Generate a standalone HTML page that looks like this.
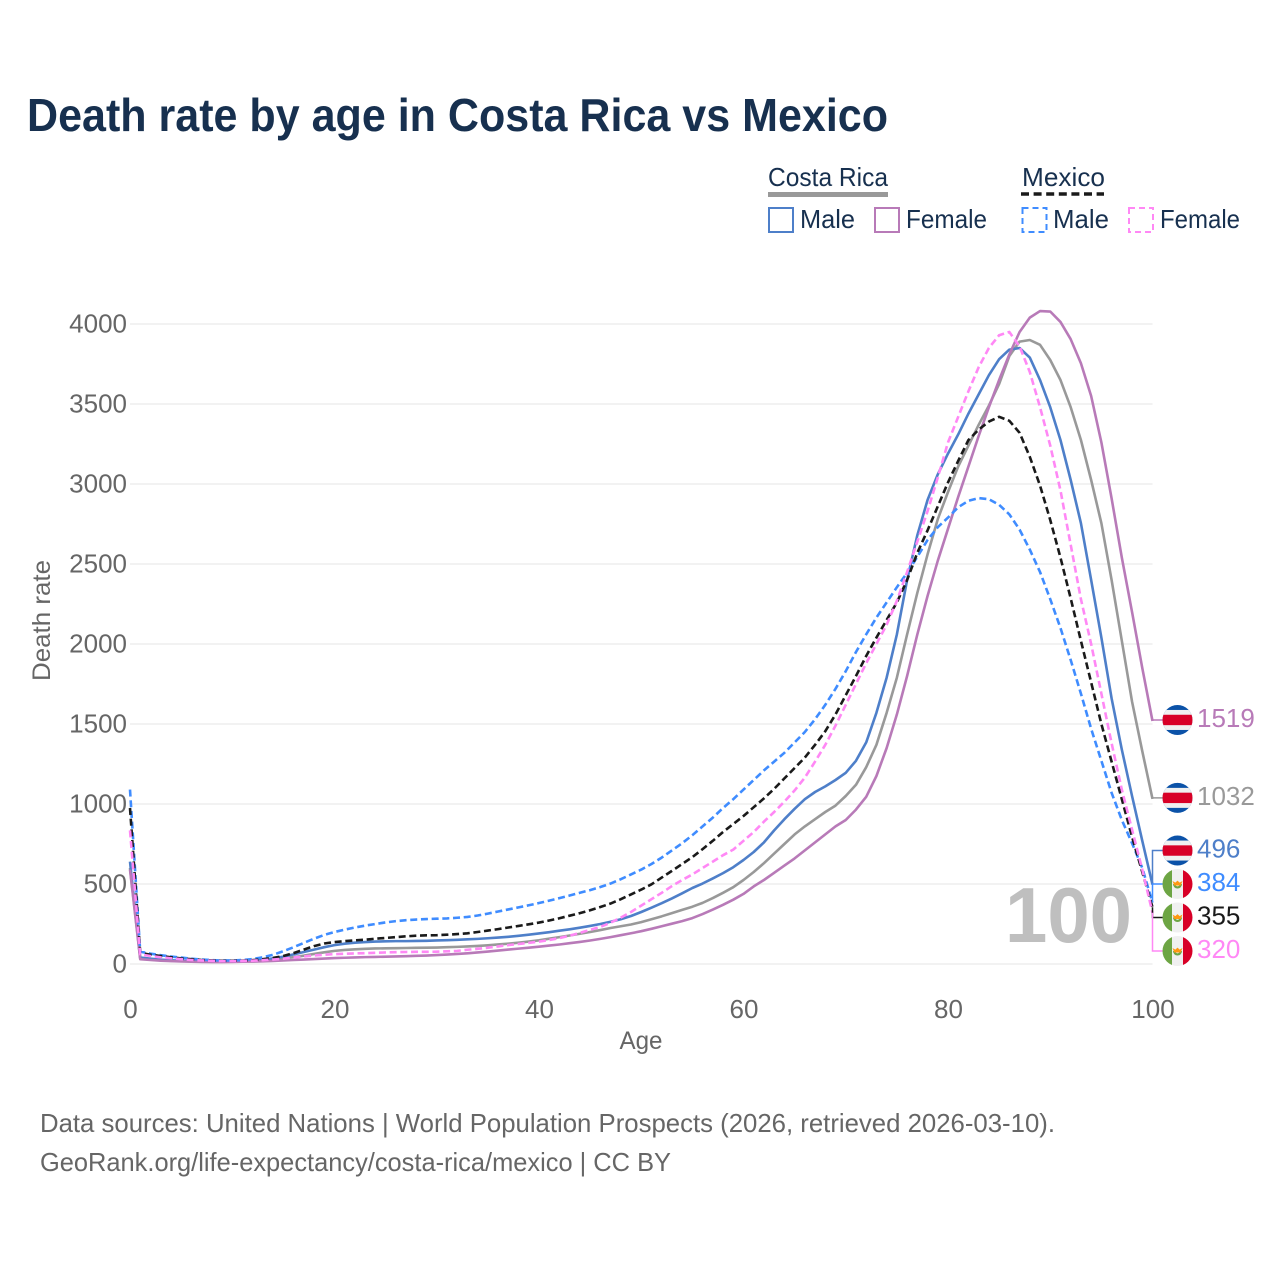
<!DOCTYPE html>
<html lang="en">
<head>
<meta charset="utf-8">
<title>Death rate by age in Costa Rica vs Mexico</title>
<style>
html,body{margin:0;padding:0;background:#fff;width:1280px;height:1280px;overflow:hidden}
svg{display:block}
text{font-family:"Liberation Sans",sans-serif}
</style>
</head>
<body>
<svg id="chart" xmlns="http://www.w3.org/2000/svg" width="1280" height="1280" viewBox="0 0 1280 1280">
  <defs>
    <clipPath id="flag-clip"><circle cx="0" cy="0" r="15"></circle></clipPath>
  </defs>
  <rect x="0" y="0" width="1280" height="1280" fill="#ffffff"></rect>
  <text x="27" y="131" font-size="46" font-weight="700" fill="#17304f" textLength="861" lengthAdjust="spacingAndGlyphs">Death rate by age in Costa Rica vs Mexico</text>

  <g>
    <text x="768" y="186" font-size="26" fill="#17304f" textLength="120" lengthAdjust="spacingAndGlyphs">Costa Rica</text>
    <line x1="768" y1="194.5" x2="888" y2="194.5" stroke="#999999" stroke-width="5"></line>
    <text x="1022" y="186" font-size="26" fill="#17304f" textLength="83" lengthAdjust="spacingAndGlyphs">Mexico</text>
    <line x1="1021" y1="194" x2="1104" y2="194" stroke="#1a1a1a" stroke-width="3.5" stroke-dasharray="8 4.6"></line>
    <rect x="769" y="208" width="24" height="24" fill="none" stroke="#4e7fc9" stroke-width="2"></rect>
    <text x="800" y="228" font-size="26" fill="#17304f" textLength="55" lengthAdjust="spacingAndGlyphs">Male</text>
    <rect x="875" y="208" width="24" height="24" fill="none" stroke="#b87ab8" stroke-width="2"></rect>
    <text x="906" y="228" font-size="26" fill="#17304f" textLength="81" lengthAdjust="spacingAndGlyphs">Female</text>
    <rect x="1022.5" y="208" width="24" height="24" fill="none" stroke="#3f8cff" stroke-width="2" stroke-dasharray="6 4"></rect>
    <text x="1053" y="228" font-size="26" fill="#17304f" textLength="56" lengthAdjust="spacingAndGlyphs">Male</text>
    <rect x="1129" y="208" width="24" height="24" fill="none" stroke="#ff88f5" stroke-width="2" stroke-dasharray="6 4"></rect>
    <text x="1160" y="228" font-size="26" fill="#17304f" textLength="80" lengthAdjust="spacingAndGlyphs">Female</text>
  </g>

  <g id="grid"></g>
  <g id="y-ticks"></g>
  <g id="x-ticks"></g>
  <text transform="translate(50,620.5) rotate(-90)" text-anchor="middle" font-size="25" fill="#666666" textLength="121" lengthAdjust="spacingAndGlyphs">Death rate</text>
  <text x="641" y="1049" text-anchor="middle" font-size="25" fill="#666666" textLength="43" lengthAdjust="spacingAndGlyphs">Age</text>
  <text x="1005" y="942" font-size="78" font-weight="700" fill="#bfbfbf" textLength="127" lengthAdjust="spacingAndGlyphs">100</text>

  <g id="series"></g>
  <g id="end-labels"></g>

  <text x="40" y="1132" font-size="26" fill="#666666" textLength="1015" lengthAdjust="spacingAndGlyphs">Data sources: United Nations | World Population Prospects (2026, retrieved 2026-03-10).</text>
  <text x="40" y="1171" font-size="26" fill="#666666" textLength="631" lengthAdjust="spacingAndGlyphs">GeoRank.org/life-expectancy/costa-rica/mexico | CC BY</text>
</svg>
<script>
var xTicks = [0, 20, 40, 60, 80, 100];
var yTicks = [0, 500, 1000, 1500, 2000, 2500, 3000, 3500, 4000];

var costaRicaTotal = [600,35,28,23,20,18,16,15,14,14,15,16,18,22,28,35,43,52,63,73,82,88,92,95,97,98,99,100,101,102,103,105,107,110,113,117,122,127,133,140,148,158,168,178,189,200,212,225,236,247,262,280,298,318,338,358,382,412,445,480,525,575,630,690,750,810,860,905,950,990,1050,1120,1230,1370,1570,1790,2060,2320,2560,2780,2950,3110,3240,3370,3490,3625,3800,3890,3900,3870,3775,3650,3480,3275,3025,2755,2400,2020,1640,1330,1032];
var costaRicaMale = [640,40,33,27,23,20,18,16,15,15,16,18,21,27,35,46,60,75,90,105,118,127,133,137,140,142,143,143,144,145,147,149,151,154,157,161,165,170,176,183,191,199,208,217,227,238,250,264,280,300,325,352,380,410,442,475,503,535,568,605,650,700,760,835,905,970,1030,1075,1110,1150,1195,1270,1385,1570,1790,2060,2400,2680,2900,3060,3190,3310,3440,3560,3680,3780,3840,3850,3790,3650,3480,3275,3025,2755,2400,2040,1660,1340,1050,770,496];
var costaRicaFemale = [590,30,25,21,18,16,14,13,12,12,13,14,15,17,19,22,25,28,31,34,37,39,41,43,44,46,47,49,51,53,56,59,63,67,72,78,84,90,96,102,108,115,122,130,138,147,157,168,180,192,205,220,236,252,268,287,312,340,370,402,438,485,525,570,615,660,710,760,810,860,900,965,1045,1175,1350,1560,1800,2060,2300,2520,2720,2920,3110,3300,3480,3650,3810,3950,4040,4081,4078,4013,3905,3755,3550,3260,2910,2540,2200,1850,1519];
var mexicoMale = [1090,77,65,55,47,40,33,28,24,22,22,25,31,42,58,80,105,132,158,182,200,215,228,240,250,260,268,274,278,281,283,285,289,294,303,315,328,341,354,367,381,396,412,428,445,462,481,503,530,560,590,625,665,710,755,805,860,915,975,1030,1090,1150,1210,1265,1320,1385,1450,1530,1620,1720,1830,1950,2060,2165,2260,2355,2445,2545,2650,2730,2790,2855,2895,2912,2905,2870,2810,2715,2590,2450,2280,2100,1900,1690,1470,1270,1070,900,755,600,384];
var mexicoTotal = [975,70,58,50,42,35,30,25,22,20,20,21,24,30,38,50,68,90,112,128,137,143,148,152,158,163,168,173,177,179,180,183,187,192,200,209,218,228,238,248,259,272,286,302,318,336,356,378,405,435,465,498,540,582,625,668,718,770,825,875,925,980,1035,1095,1160,1225,1290,1370,1455,1560,1680,1800,1925,2040,2150,2260,2400,2570,2710,2860,3010,3145,3275,3340,3390,3420,3395,3320,3170,2990,2775,2540,2285,2020,1760,1500,1265,1030,795,575,355];
var mexicoFemale = [835,60,50,42,36,30,25,22,20,18,18,19,21,24,28,33,40,47,53,58,62,64,66,68,70,72,74,75,76,76,77,79,82,89,95,102,110,118,125,132,140,150,162,177,195,213,232,258,290,325,365,405,445,487,525,560,600,640,680,715,770,825,890,950,1015,1085,1165,1265,1370,1490,1620,1750,1880,2000,2120,2270,2450,2640,2830,3040,3260,3420,3580,3730,3850,3930,3950,3860,3700,3480,3240,2960,2620,2280,2000,1690,1380,1090,840,590,320];

var NS = 'http://www.w3.org/2000/svg';
var X0 = 130, X1 = 1152.5, Y0 = 964, Y1 = 324;
function xScale(age) { return X0 + (X1 - X0) * age / 100; }
function yScale(v) { return Y0 + (Y1 - Y0) * v / 4000; }
function make(tag, attrs, parent) {
  var el = document.createElementNS(NS, tag);
  for (var k in attrs) el.setAttribute(k, attrs[k]);
  parent.appendChild(el);
  return el;
}

var gridGroup = document.getElementById('grid');
var yTickGroup = document.getElementById('y-ticks');
var xTickGroup = document.getElementById('x-ticks');
yTicks.forEach(function (t) {
  var line = make('line', { x1: X0, x2: X1, y1: yScale(t), y2: yScale(t), stroke: '#eeeeee', 'stroke-width': 1.6 }, gridGroup);
  
  
  var label = make('text', { x: 127, y: yScale(t) + 8.5, 'text-anchor': 'end', 'font-size': 26, fill: '#666666' }, yTickGroup);
  
  
  label.textContent = String(t);
});
xTicks.forEach(function (t) {
  var label = make('text', { x: xScale(t) + 0.5, y: 1018, 'text-anchor': 'middle', 'font-size': 26, fill: '#666666' }, xTickGroup);
  
  
  label.textContent = String(t);
});

var seriesList = [
  { key: 'costa-rica-total', values: costaRicaTotal, color: '#999999', dash: '', flag: 'cr' },
  { key: 'costa-rica-male', values: costaRicaMale, color: '#4e7fc9', dash: '', flag: 'cr' },
  { key: 'costa-rica-female', values: costaRicaFemale, color: '#b87ab8', dash: '', flag: 'cr' },
  { key: 'mexico-male', values: mexicoMale, color: '#3f8cff', dash: '7 3.7', flag: 'mx' },
  { key: 'mexico-total', values: mexicoTotal, color: '#1a1a1a', dash: '7 3.7', flag: 'mx' },
  { key: 'mexico-female', values: mexicoFemale, color: '#ff88f5', dash: '7 3.7', flag: 'mx' }
];

var seriesGroup = document.getElementById('series');
seriesList.forEach(function (s) {
  var d = s.values.map(function (v, i) {
    return (i ? 'L' : 'M') + xScale(i).toFixed(2) + ' ' + yScale(v).toFixed(2);
  }).join('');
  var attrs = { d: d, fill: 'none', stroke: s.color, 'stroke-width': 2.6, 'stroke-linejoin': 'round' };
  if (s.dash) attrs['stroke-dasharray'] = s.dash;
  var path = make('path', attrs, seriesGroup);
  
  
});

// Stack end labels so they never overlap, keeping groups centred on their natural positions.
var GAP = 33.5;
function placeLabels(items) {
  var blocks = items.slice().sort(function (a, b) { return a.natural - b.natural; }).map(function (it) {
    return { items: [it], sum: it.natural };
  });
  var merged = true;
  function top(b) { return b.sum / b.items.length - (b.items.length - 1) * GAP / 2; }
  function bottom(b) { return b.sum / b.items.length + (b.items.length - 1) * GAP / 2; }
  while (merged) {
    merged = false;
    for (var i = 0; i < blocks.length - 1; i++) {
      if (top(blocks[i + 1]) - bottom(blocks[i]) < GAP) {
        blocks[i].items = blocks[i].items.concat(blocks[i + 1].items);
        blocks[i].sum += blocks[i + 1].sum;
        blocks.splice(i + 1, 1);
        merged = true;
        break;
      }
    }
  }
  blocks.forEach(function (b) {
    b.items.forEach(function (it, j) { it.placed = top(b) + j * GAP - 1; });
  });
}

function drawFlag(kind, cy, parent) {
  var g = make('g', { transform: 'translate(1177.5,' + cy + ')', 'clip-path': 'url(#flag-clip)' }, parent);
  if (kind === 'cr') {
    
    make('rect', { x: -16, y: -16, width: 32, height: 32, fill: '#0b52a8' }, g);
    make('rect', { x: -16, y: -10, width: 32, height: 20, fill: '#f0f0f0' }, g);
    make('rect', { x: -16, y: -5.2, width: 32, height: 10.4, fill: '#d80027' }, g);
  } else {
    
    make('rect', { x: -16, y: -16, width: 32, height: 32, fill: '#f0f0f0' }, g);
    make('rect', { x: -16, y: -16, width: 10.5, height: 32, fill: '#6da544' }, g);
    make('rect', { x: 5.5, y: -16, width: 11, height: 32, fill: '#d80027' }, g);
    make('path', { d: 'M-4.5 0a4.5 4.5 0 0 0 9 0h-2.2a2.3 2.3 0 0 1-4.6 0z', fill: '#6da544' }, g);
    make('path', { d: 'M-5 -3L-2.2 -1.4L0 -3.4L2.2 -1.4L5 -3L3.2 1.5L-3.2 1.5z', fill: '#ff9811' }, g);
  }
  
}

var labelItems = seriesList.map(function (s) {
  return { series: s, value: s.values[100], natural: yScale(s.values[100]) };
});
placeLabels(labelItems);

var labelGroup = document.getElementById('end-labels');
labelItems.forEach(function (it) {
  var connector = make('path', {
    d: 'M' + X1 + ' ' + it.natural + 'V' + it.placed + 'H1164',
    fill: 'none', stroke: it.series.color, 'stroke-width': 1.5
  }, labelGroup);
  
  
  drawFlag(it.series.flag, it.placed, labelGroup);
  var text = make('text', { x: 1197, y: it.placed + 7, 'font-size': 26, fill: it.series.color }, labelGroup);
  
  
  text.textContent = String(it.value);
});
</script>
</body>
</html>
